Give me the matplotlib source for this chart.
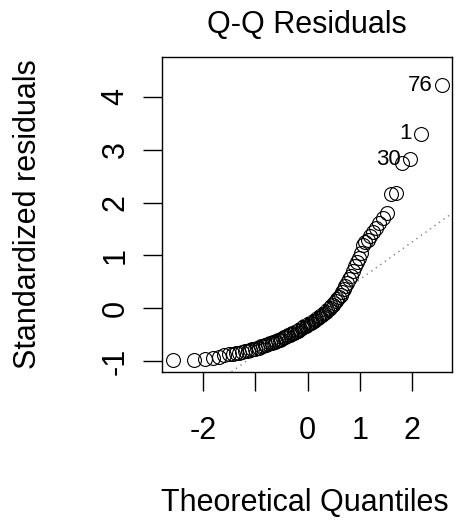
import numpy as np
import matplotlib
matplotlib.use('Agg')
import matplotlib.pyplot as plt
from statistics import NormalDist

# theoretical quantiles come from ppoints(100); residuals
n_obs = 100
std_resid = [
    -0.98, -0.97, -0.95, -0.93, -0.91, -0.89, -0.87, -0.86, -0.85, -0.84,
    -0.82, -0.81, -0.80, -0.78, -0.77, -0.76, -0.75, -0.74, -0.72, -0.71,
    -0.70, -0.69, -0.67, -0.66, -0.65, -0.64, -0.63, -0.61, -0.60, -0.59,
    -0.58, -0.56, -0.55, -0.54, -0.53, -0.51, -0.50, -0.49, -0.47, -0.46,
    -0.45, -0.43, -0.42, -0.40, -0.39, -0.37, -0.36, -0.34, -0.33, -0.31,
    -0.30, -0.28, -0.27, -0.25, -0.23, -0.22, -0.20, -0.18, -0.16, -0.14,
    -0.12, -0.10, -0.08, -0.06, -0.04, -0.02, 0.01, 0.04, 0.07, 0.10,
    0.14, 0.18, 0.22, 0.26, 0.30, 0.36, 0.42, 0.48, 0.55, 0.62,
    0.70, 0.80, 0.88, 0.95, 1.05, 1.20, 1.26, 1.30, 1.36, 1.45,
    1.52, 1.62, 1.70, 1.80, 2.16, 2.18, 2.74, 2.82, 3.30, 4.22,
]
# labels of the three largest residuals (largest first)
id_labels = ['76', '1', '30']

x_ticks = [-2, -1, 0, 1, 2]
x_tick_labels = ['-2', '', '0', '1', '2']
y_ticks = [-1, 0, 1, 2, 3, 4]

# normal quantiles of ppoints(n)
nd = NormalDist()
probs = (np.arange(1, n_obs + 1) - 0.5) / n_obs
theo_q = np.array([nd.inv_cdf(p) for p in probs])
resid = np.array(std_resid)

plt.rcParams['font.family'] = ['Liberation Sans', 'DejaVu Sans']

fig = plt.figure(figsize=(4.64, 5.23), dpi=100)
ax = fig.add_axes([0.349, 0.289, 0.625, 0.602])

ax.plot(theo_q, resid, 'o', mfc='none', mec='black', ms=10, mew=0.8)

# qqline through the quartiles
yq = np.quantile(resid, [0.25, 0.75])
xq = np.array([nd.inv_cdf(0.25), nd.inv_cdf(0.75)])
slope = (yq[1] - yq[0]) / (xq[1] - xq[0])
ax.axline((xq[0], yq[0]), slope=slope, color='gray', lw=1, ls=(0, (1, 3)))

for k, lab in enumerate(id_labels):
    idx = n_obs - 1 - k
    ax.annotate(lab, (theo_q[idx], resid[idx]), xytext=(-7, 0),
                textcoords='offset points', ha='right', va='center', fontsize=16)

ax.set_xlim(-2.79, 2.76)
ax.set_ylim(-1.2, 4.75)
ax.set_xticks(x_ticks)
ax.set_xticklabels(x_tick_labels)
ax.set_yticks(y_ticks)
ax.set_yticklabels([str(t) for t in y_ticks], rotation=90, va='center')
ax.tick_params(direction='out', length=13.5, width=1, labelsize=22, pad=18)
ax.tick_params(axis='y', pad=9)
for s in ax.spines.values():
    s.set_linewidth(1)

ax.set_title('Q-Q Residuals', fontsize=22, pad=17)
fig.text(0.657, 0.038, 'Theoretical Quantiles', ha='center', va='center', fontsize=22)
fig.text(0.06, 0.59, 'Standardized residuals', ha='center', va='center',
         rotation=90, fontsize=22)

plt.savefig('out.png', dpi=100)
